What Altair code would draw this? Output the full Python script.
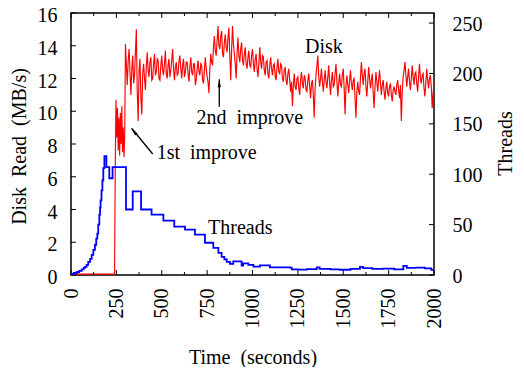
import altair as alt
import pandas as pd

# ---------------- data ----------------
# Disk read (MB/s)
pre_t = [0, 240]
pre_v = [0.05, 0.05]
first_t = [244, 248, 252, 256, 260, 264, 268, 272, 276, 280, 284, 288, 292, 296]
first_v = [6.8, 10.7, 8.4, 10.2, 7.6, 9.6, 7.3, 9.9, 8.0, 10.3, 7.5, 9.0, 7.2, 8.6]
main_t = list(range(300, 2001, 5))
main_v = [
    14.1, 12.8, 11.6, 13.1, 13.8, 12.4, 11.0, 12.6, 13.4, 11.7, 12.2, 13.6, 15.0, 11.2, 9.4, 12.5, 13.2, 10.8, 9.8, 12.3,
    12.9, 12.0, 11.3, 12.7, 13.6, 12.5, 12.1, 13.0, 13.3, 11.9, 12.0, 12.9, 13.5, 12.2, 12.4, 13.2, 13.1, 12.0, 11.9, 12.8,
    13.4, 12.5, 12.2, 12.9, 13.7, 12.3, 12.0, 12.8, 13.2, 12.1, 12.5, 13.1, 13.8, 12.6, 11.9, 12.7, 13.0, 12.2, 12.3, 13.1,
    13.4, 12.6, 12.0, 12.8, 13.2, 12.1, 12.4, 13.0, 13.0, 12.3, 11.8, 12.7, 13.3, 12.4, 12.2, 12.9, 12.9, 11.6, 11.9, 12.6,
    13.1, 12.4, 12.2, 12.9, 12.8, 11.9, 11.7, 12.5, 13.3, 12.6, 12.1, 11.8, 11.1, 12.6, 13.5, 13.0, 12.8, 13.9, 14.6, 13.7,
    13.4, 14.3, 15.2, 14.0, 13.8, 14.6, 14.9, 13.5, 13.3, 14.2, 14.7, 13.9, 13.6, 14.5, 15.1, 13.4, 11.9, 13.8, 15.2, 14.1,
    13.5, 12.9, 12.0, 13.6, 14.5, 13.4, 13.0, 13.8, 14.2, 13.1, 12.8, 13.5, 13.9, 12.9, 12.6, 13.3, 13.7, 12.8, 12.7, 13.4,
    13.8, 12.9, 12.4, 13.2, 13.5, 12.6, 12.1, 12.9, 13.9, 13.0, 12.6, 13.4, 13.3, 12.5, 12.2, 13.0, 13.1, 12.3, 12.0, 12.8,
    13.3, 12.6, 12.2, 12.8, 12.9, 12.1, 11.9, 12.7, 13.2, 12.4, 12.3, 12.9, 12.8, 12.0, 11.8, 12.5, 12.7, 11.9, 11.6, 12.3,
    12.6, 11.9, 11.2, 11.8, 10.3, 11.6, 12.3, 11.5, 11.3, 12.0, 12.1, 11.4, 11.0, 11.9, 12.4, 11.7, 11.4, 12.2, 12.0, 11.3,
    11.2, 11.9, 12.3, 11.5, 10.8, 11.7, 11.9, 11.0, 9.6, 11.4, 12.2, 12.8, 13.4, 12.1, 11.5, 12.0, 12.6, 11.8, 11.2, 11.9,
    12.5, 11.8, 11.4, 12.1, 12.8, 11.7, 11.0, 11.9, 12.4, 11.5, 11.6, 12.3, 12.9, 11.8, 10.9, 11.7, 12.3, 11.6, 11.5, 12.2,
    12.6, 11.4, 9.8, 11.5, 12.2, 11.6, 11.1, 11.9, 12.5, 11.7, 11.3, 11.9, 12.0, 10.8, 9.6, 11.2, 11.8, 11.2, 11.0, 12.1,
    13.0, 12.2, 11.6, 12.3, 12.6, 11.5, 10.9, 11.8, 12.7, 12.0, 11.4, 11.9, 12.3, 11.1, 10.2, 11.5, 12.4, 11.8, 11.2, 11.9,
    12.5, 11.7, 11.0, 11.6, 11.9, 11.2, 10.7, 11.4, 11.8, 11.1, 10.9, 11.5, 11.7, 11.0, 10.6, 11.3, 11.5, 11.2, 11.0, 11.6,
    11.9, 11.3, 10.8, 11.6, 9.4, 11.2, 12.1, 12.5, 13.0, 12.2, 11.5, 12.1, 12.6, 11.8, 11.3, 12.0, 12.8, 12.1, 11.6, 12.3,
    12.4, 11.7, 11.2, 12.1, 12.9, 12.0, 11.7, 12.2, 12.3, 11.4, 10.9, 11.8, 12.6, 11.9, 11.4, 12.0, 12.2, 11.5, 10.2, 11.1,
    11.8,
]

# Threads (step series)
th_t = [0, 15, 31, 45, 59, 70, 77, 86, 95, 105, 114, 123, 132, 139, 145, 150, 156,
        160, 163, 168, 173, 178, 184, 195, 211, 229, 303, 340, 386, 444, 509, 569,
        628, 683, 738, 784, 812, 830, 845, 858, 876, 894, 940, 949, 977, 1005, 1041,
        1096, 1150, 1207, 1216, 1252, 1300, 1354, 1370, 1430, 1480, 1540, 1592, 1610,
        1660, 1720, 1780, 1831, 1850, 1900, 1950, 1985, 2000]
th_v = [1, 2, 3, 4, 5.5, 7, 8, 10, 13, 16, 20, 25, 30, 36, 41, 50, 60,
        67, 74, 84, 94, 106, 118, 107, 96, 107, 65, 83, 65, 60, 54, 48,
        45, 40, 32, 27, 22, 18, 15.5, 13, 11, 13.5, 9.3, 11.6, 10, 8.3, 9.6,
        7.6, 7.6, 7.3, 5.6, 5.3, 5.8, 7.5, 6.0, 5.5, 5.2, 6.0, 8.0, 6.8,
        6.0, 6.3, 5.5, 9.0, 7.0, 7.3, 6.5, 5.0, 5.0]

# axis ticks
x_major = [0, 250, 500, 750, 1000, 1250, 1500, 1750, 2000]
x_minor = [125, 375, 625, 875, 1125, 1375, 1625, 1875]
y_left_ticks = [0, 2, 4, 6, 8, 10, 12, 14, 16]
y_right_ticks = [0, 50, 100, 150, 200, 250]

# annotations (x in seconds, y in MB/s)
label_text = ["Disk", "Threads", "1st\u00a0\u00a0improve", "2nd\u00a0\u00a0improve"]
label_t = [1289, 755, 472, 692]
label_mb = [13.9, 2.87, 7.43, 9.57]

arrow_t = [450, 817]
arrow_mb = [7.39, 10.28]
arrow_t2 = [334, 817]
arrow_mb2 = [8.96, 11.95]
head_t = [346, 817]
head_mb = [8.77, 11.71]
head_angle = [321, 0]

# ---------------- chart ----------------
W, H = 363, 262
FONT = "Liberation Serif"
FS = 20

disk_df = pd.DataFrame({"t": pre_t + first_t + main_t, "mb": pre_v + first_v + main_v})
th_df = pd.DataFrame({"t": th_t, "th": th_v})

common = dict(ticks=False, domain=False, grid=False, format="d",
              labelFont=FONT, labelFontSize=FS, labelColor="black",
              titleFont=FONT, titleFontSize=FS, titleColor="black",
              titleFontWeight="normal", titleAlign="center", titleBaseline="middle")

xscale = alt.Scale(domain=[0, 2000], nice=False, zero=False)
xaxis = alt.Axis(title="Time\u00a0\u00a0(seconds)", values=x_major, labelAngle=270,
                 labelPadding=13, titleX=181.5, titleY=82, **common)
ly_scale = alt.Scale(domain=[0, 16], nice=False, zero=False)
ly_axis = alt.Axis(title="Disk\u00a0\u00a0Read\u00a0\u00a0(MB/s)", values=y_left_ticks,
                   labelPadding=14, labelOffset=2.5,
                   titleAngle=270, titleX=-51.5, titleY=133, **common)
ry_scale = alt.Scale(domain=[0, 260], nice=False, zero=False)
ry_axis = alt.Axis(title="Threads", orient="right", values=y_right_ticks,
                   labelPadding=18, labelOffset=1,
                   titleAngle=270, titleX=71, titleY=130, **common)


def X(field="t"):
    return alt.X(f"{field}:Q", scale=xscale, axis=xaxis)


def YL(field="mb"):
    return alt.Y(f"{field}:Q", scale=ly_scale, axis=ly_axis)


def YR(field="th"):
    return alt.Y(f"{field}:Q", scale=ry_scale, axis=ry_axis)


disk_line = alt.Chart(disk_df).mark_line(color="#ff0000", strokeWidth=1.15).encode(x=X(), y=YL())

xmaj_df = pd.DataFrame({"t": x_major})
xmin_df = pd.DataFrame({"t": x_minor})
bot_major = alt.Chart(xmaj_df).mark_rule(color="black", strokeWidth=1).encode(
    x=X(), y=alt.value(H), y2=alt.value(H - 5))
top_major = alt.Chart(xmaj_df).mark_rule(color="black", strokeWidth=1).encode(
    x=X(), y=alt.value(0), y2=alt.value(5))
bot_minor = alt.Chart(xmin_df).mark_rule(color="black", strokeWidth=1).encode(
    x=X(), y=alt.value(H), y2=alt.value(H - 3))
top_minor = alt.Chart(xmin_df).mark_rule(color="black", strokeWidth=1).encode(
    x=X(), y=alt.value(0), y2=alt.value(3))

yl_df = pd.DataFrame({"mb": y_left_ticks})
left_ticks = alt.Chart(yl_df).mark_rule(color="black", strokeWidth=1).encode(
    y=YL(), x=alt.value(0), x2=alt.value(5))

lab_df = pd.DataFrame({"t": label_t, "mb": label_mb, "label": label_text})
labels = alt.Chart(lab_df).mark_text(align="left", baseline="middle", font=FONT,
                                     fontSize=FS, color="black").encode(
    x=X(), y=YL(), text="label:N")

arr_df = pd.DataFrame({"t": arrow_t, "mb": arrow_mb, "t2": arrow_t2, "mb2": arrow_mb2})
shafts = alt.Chart(arr_df).mark_rule(color="black", strokeWidth=1.3).encode(
    x=X(), y=YL(), x2="t2:Q", y2="mb2:Q")
head_df = pd.DataFrame({"t": head_t, "mb": head_mb, "ang": head_angle})
heads = alt.Chart(head_df).mark_point(
    shape="M0,-1L-0.4,1L0.4,1Z", filled=True, color="black", opacity=1, size=64,
    strokeWidth=0).encode(x=X(), y=YL(), angle=alt.Angle("ang:Q", scale=None))

layer_left = alt.layer(disk_line, left_ticks, bot_major, top_major, bot_minor, top_minor,
                       labels, shafts, heads)

th_line = alt.Chart(th_df).mark_line(color="#0000ff", strokeWidth=1.8,
                                     interpolate="step-after").encode(x=X(), y=YR())
yr_df = pd.DataFrame({"th": y_right_ticks})
right_ticks = alt.Chart(yr_df).mark_rule(color="black", strokeWidth=1).encode(
    y=YR(), x=alt.value(W), x2=alt.value(W - 5))

layer_right = alt.layer(th_line, right_ticks)

chart = alt.layer(layer_left, layer_right).resolve_scale(y="independent").properties(
    width=W, height=H,
    autosize=alt.AutoSizeParams(type="none"),
    padding={"left": 63, "top": 5, "right": 82, "bottom": 92},
    background="white",
).configure_view(stroke="black", strokeWidth=1.5)

chart.save("out.html", embed_options={"renderer": "svg", "actions": False})
